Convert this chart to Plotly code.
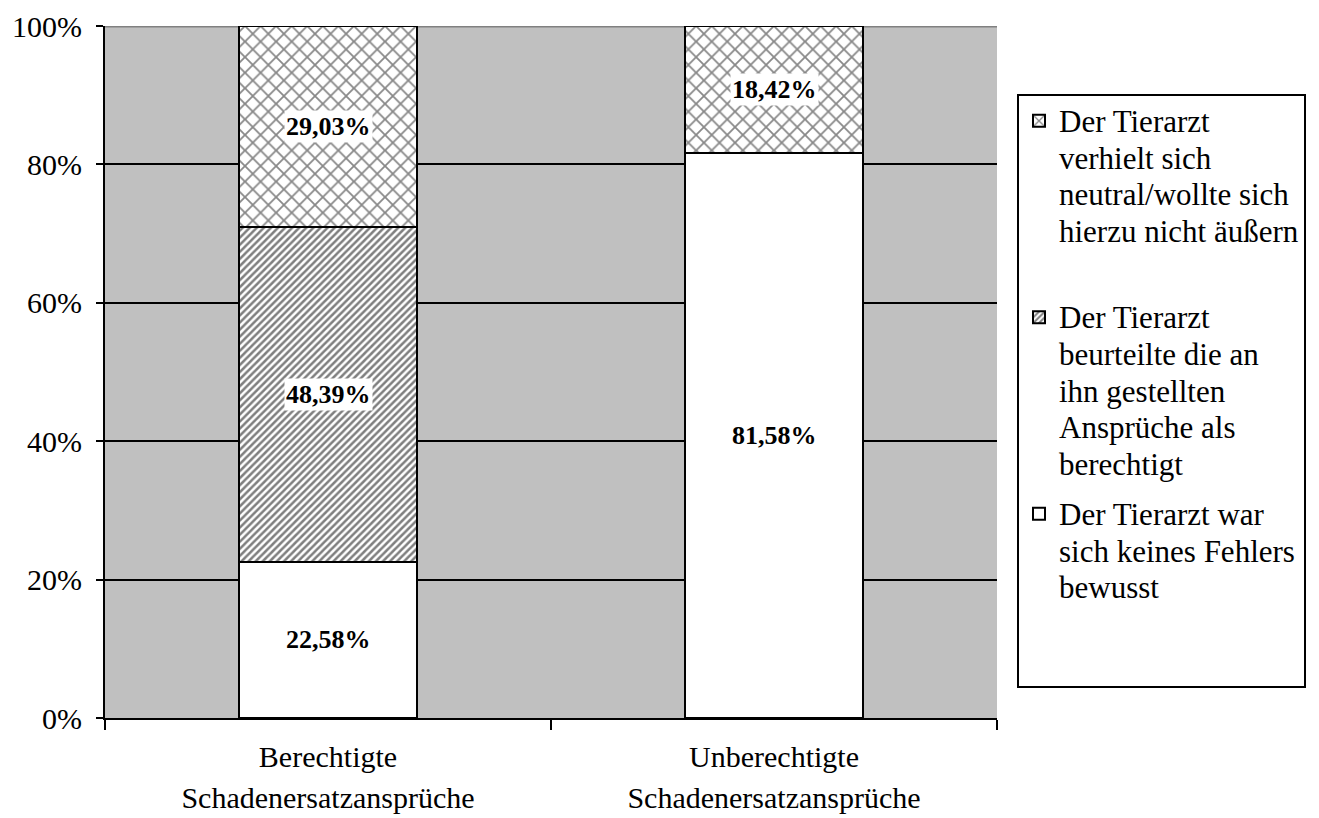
import plotly.graph_objects as go

# Categories and shares (percent) per answer group
cat_lines = [["Berechtigte", "Schadenersatzansprüche"], ["Unberechtigte", "Schadenersatzansprüche"]]
keine_fehler = [22.58, 81.58]
berechtigt = [48.39, None]
neutral = [29.03, 18.42]

label_keine = ["Der Tierarzt war", "sich keines Fehlers", "bewusst", " ", " "]
label_berechtigt = ["Der Tierarzt", "beurteilte die an", "ihn gestellten", "Ansprüche als", "berechtigt"]
label_neutral = ["Der Tierarzt", "verhielt sich", "neutral/wollte sich", "hierzu nicht äußern", " "]

y_ticks = [0, 20, 40, 60, 80, 100]
y_ticktext = ["0%", "20%", "40%", "60%", "80%", "100%"]

FONT = "Liberation Serif"
LEGEND_GLYPH = 31
AXIS_GLYPH = 30


def spanned(lines, px):
    # glyph size set per line so the line pitch can follow the outer font size
    return "<br>".join(f'<span style="font-size:{px}px">{ln}</span>' for ln in lines)


def fmt(v):
    return f"{v:.2f}".replace(".", ",") + "%"


categories = [spanned(c, AXIS_GLYPH) for c in cat_lines]

series = [
    (keine_fehler, label_keine, dict(color="white"), "g3", 3),
    (berechtigt, label_berechtigt,
     dict(color="white", pattern=dict(shape="/", fgcolor="#000000", bgcolor="white",
                                      size=5, solidity=0.5)), "g2", 2),
    (neutral, label_neutral,
     dict(color="white", pattern=dict(shape="x", fgcolor="#111111", bgcolor="white",
                                      size=11, solidity=0.3)), "g1", 1),
]

fig = go.Figure()
for values, lines, marker, grp, rank in series:
    fig.add_trace(go.Bar(
        x=categories, y=values, name=spanned(lines, LEGEND_GLYPH), width=0.4,
        legendgroup=grp, legendrank=rank,
        marker=dict(line=dict(color="black", width=2), **marker),
        hoverinfo="skip",
    ))

# value labels centred in each stacked segment
annotations = []
for ci, cat in enumerate(categories):
    base = 0.0
    for values, _, _, _, _ in series:
        v = values[ci]
        if v is None:
            continue
        annotations.append(dict(
            x=cat, y=base + v / 2, xref="x", yref="y", text=f"<b>{fmt(v)}</b>",
            showarrow=False, bgcolor="white", borderpad=1,
            font=dict(family=FONT, size=26, color="black"),
        ))
        base += v

fig.update_layout(
    barmode="stack",
    width=1319, height=818,
    margin=dict(l=105, r=322, t=26, b=100),
    paper_bgcolor="white",
    plot_bgcolor="#C0C0C0",
    font=dict(family=FONT, size=30, color="black"),
    showlegend=True,
    legend=dict(
        x=(1017 - 105) / 892, xanchor="left",
        y=(718 - 94) / 692, yanchor="top",
        bgcolor="white", bordercolor="black", borderwidth=2,
        font=dict(family=FONT, size=36.7 / 1.3, color="black"),
        traceorder="grouped", tracegroupgap=10,
        valign="top",
    ),
    annotations=annotations,
    shapes=[dict(type="line", xref="paper", yref="y", x0=0, x1=1, y0=100, y1=100,
                 line=dict(color="#808080", width=3), layer="between")],
)
fig.update_xaxes(
    type="category", tickson="boundaries", ticks="outside", ticklen=10,
    tickwidth=2, tickcolor="black", showline=True, linecolor="black", linewidth=2,
    showgrid=False, tickfont=dict(family=FONT, size=31.5), range=[-0.5, 1.5],
    automargin=False, ticklabelstandoff=9,
)
fig.update_yaxes(
    range=[0, 100], tickvals=y_ticks, ticktext=y_ticktext, ticks="outside",
    ticklen=7, tickwidth=2, tickcolor="black", showline=True, linecolor="black",
    linewidth=2, showgrid=True, gridcolor="black", gridwidth=2, zeroline=False,
    tickfont=dict(family=FONT, size=30), ticklabelstandoff=8, automargin=False,
)

fig.write_html("out.html")
